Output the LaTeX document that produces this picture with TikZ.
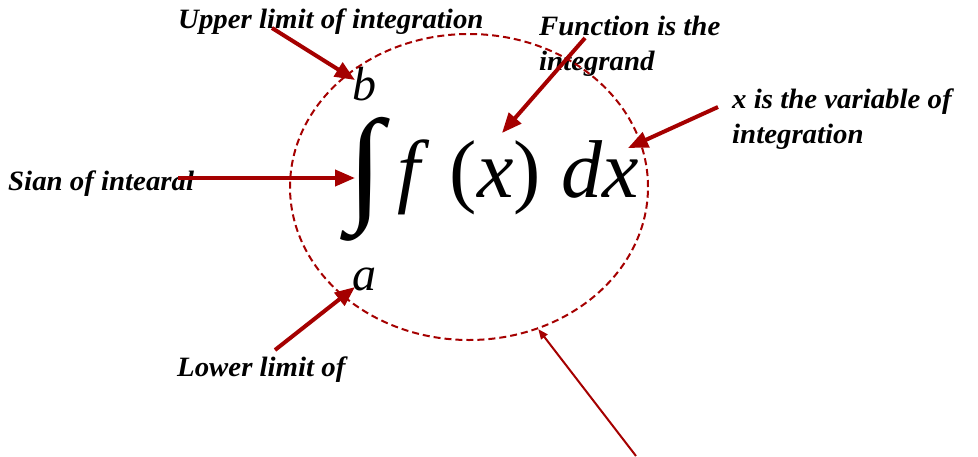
\documentclass[tikz,border=0pt]{standalone}
\usepackage{fontspec}
\setmainfont{Liberation Serif}
\newfontfamily\lblfont{Liberation Serif}[FakeStretch=1.03]
\usetikzlibrary{arrows.meta,shapes.geometric}
\definecolor{arrowred}{RGB}{165,0,0}

\begin{document}
\begin{tikzpicture}[x=1pt, y=-1pt,
  lbl/.style={inner sep=0pt, font=\lblfont\bfseries\itshape\fontsize{28}{35}\selectfont, align=left},
  sym/.style={inner sep=0pt, font=\itshape\fontsize{48}{48}\selectfont},
  arr/.style={-{Triangle[length=20pt,width=16pt]}, line width=4pt, arrowred},
  thinarr/.style={-{Triangle[length=10pt,width=8pt]}, line width=2pt, arrowred},
  ring/.style={draw=arrowred, ellipse, line width=2pt, dash pattern=on 7pt off 4pt,
    minimum width=358pt, minimum height=306pt, inner sep=0pt}
]
\useasboundingbox (0,0) rectangle (978,456);
% labels
\node[lbl, anchor=base west] (upperlbl) at (178,28) {Upper limit of integration};
\node[lbl, anchor=north west] (funclbl) at (539,16) {Function is the\\integrand};
\node[lbl, anchor=north west] (varlbl) at (732,89) {x is the variable of\\integration};
\node[lbl, anchor=base west] (signlbl) at (8,190) {Sian of intearal};
\node[lbl, anchor=base west] (lowerlbl) at (177,376) {Lower limit of};
% the integral
\node[sym, anchor=base west] (upb) at (352,100) {b};
\node[sym, anchor=base west] (lowa) at (352,290) {a};
\node[inner sep=0pt] (intsign) at (366,179) {\resizebox*{36pt}{124pt}{∫}};
\node[inner sep=0pt, anchor=base west, font=\fontsize{82}{82}\selectfont] (integrand) at (397,197) {\textit{f} (\textit{x}) \textit{dx}};
\node[ring] (ring) at (469,187) {};
% arrows
\coordinate (uppertail) at (272,28);
\coordinate (uppertip) at (355,80);
\coordinate (functail) at (585,38);
\coordinate (functip) at (502,133);
\coordinate (vartail) at (718,107);
\coordinate (vartip) at (628,148);
\coordinate (signtail) at (178,178);
\coordinate (signtip) at (355,178);
\coordinate (lowertail) at (275,350);
\coordinate (lowertip) at (355,287);
\coordinate (ringtail) at (636,456);
\draw[arr] (uppertail) -- (uppertip);
\draw[arr] (functail) -- (functip);
\draw[arr] (vartail) -- (vartip);
\draw[arr] (signtail) -- (signtip);
\draw[arr] (lowertail) -- (lowertip);
\draw[thinarr] (ringtail) -- (ring.-64);
\end{tikzpicture}
\end{document}
